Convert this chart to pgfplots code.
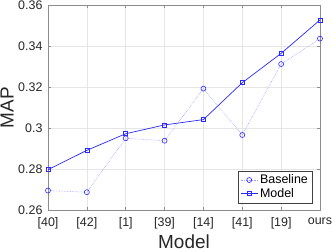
\documentclass[border=0pt]{standalone}
\usepackage{fontspec}
\setmainfont{Liberation Sans}
\usepackage{pgfplots}
\pgfplotsset{compat=1.18}
\definecolor{mblue}{RGB}{40,40,255}
\begin{document}
\begin{tikzpicture}
\begin{axis}[name=ax, scale only axis, width=272bp, height=205bp,
  xmin=0, xmax=7, ymin=0.26, ymax=0.36,
  xtick={0,1,2,3,4,5,6,7},
  xticklabels={[40],[42],[1],[39],[14],[41],[19],ours},
  ytick={0.26,0.28,0.30,0.32,0.34,0.36},
  yticklabel style={/pgf/number format/fixed, /pgf/number format/precision=2, xshift=-2bp},
  xticklabel style={yshift=-4bp},
  /pgf/number format/assume math mode=true,
  grid=major, grid style={black!10, line width=0.5bp},
  axis line style={black!45, line width=0.6bp},
  tick style={black!45, line width=0.6bp},
  tick align=inside, major tick length=3bp,
  tick label style={font=\fontsize{12.5}{14}\selectfont, text=black!85},
  xlabel={Model}, ylabel={MAP},
  label style={font=\fontsize{19}{22}\selectfont, text=black!85},
  xlabel style={at={(axis description cs:0.5,-0.155)}, anchor=center},
  ylabel style={at={(axis description cs:-0.15,0.5)}, anchor=center, rotate=0},
  legend style={at={(0.971,0.034)}, anchor=south east, draw=black!75, line width=0.5bp,
    font=\fontsize{12.5}{14}\selectfont, inner sep=2bp, row sep=-1bp},
  legend cell align=left,
]
\addplot[mblue!45, densely dotted, line width=0.6bp, mark=o, mark size=2.5bp,
  mark options={solid, mblue, line width=0.6bp}]
  coordinates {(0,0.2695) (1,0.2687) (2,0.2950) (3,0.2938) (4,0.3192) (5,0.2966) (6,0.3312) (7,0.3436)};
\addlegendentry{Baseline}
\addplot[mblue, solid, line width=0.7bp, mark=square, mark size=2bp,
  mark options={solid, mblue, line width=0.6bp}]
  coordinates {(0,0.2797) (1,0.2891) (2,0.2972) (3,0.3015) (4,0.3041) (5,0.3221) (6,0.3364) (7,0.3527)};
\addlegendentry{Model}
\end{axis}
\pgfresetboundingbox
\path[use as bounding box] ([xshift=-48bp,yshift=-41bp]ax.south west) rectangle ([xshift=12bp,yshift=5bp]ax.north east);
\end{tikzpicture}
\end{document}
